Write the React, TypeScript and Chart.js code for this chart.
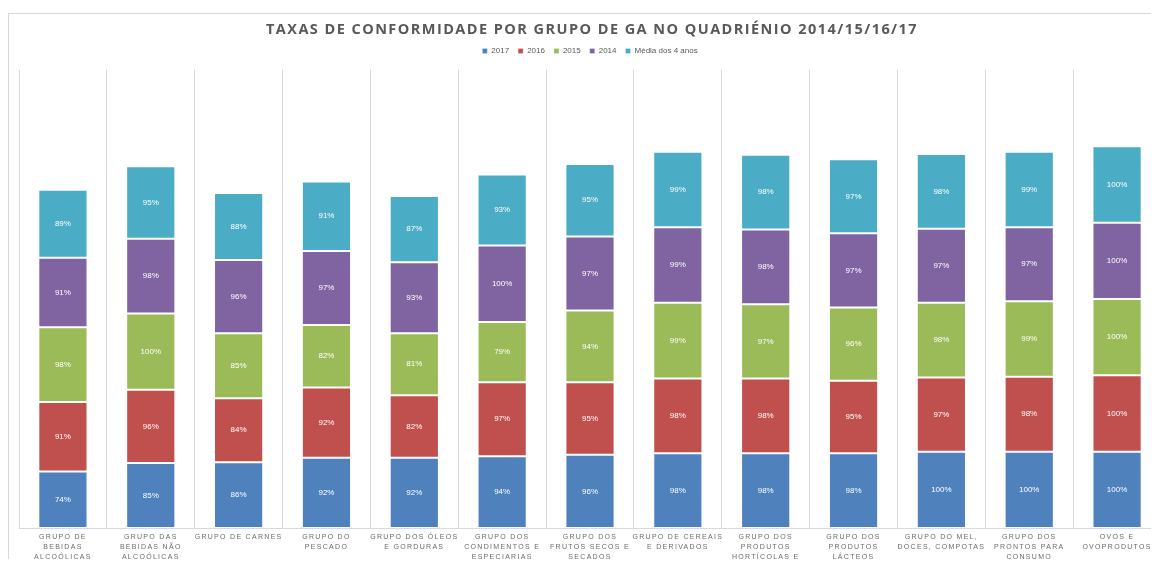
import React, { useEffect, useRef } from "react";
import { Chart, registerables } from "chart.js";

Chart.register(...registerables);

const TITLE = "TAXAS DE CONFORMIDADE POR GRUPO DE GA NO QUADRIÉNIO 2014/15/16/17";

const categories: string[][] = [
  ["GRUPO DE", "BEBIDAS", "ALCOÓLICAS"],
  ["GRUPO DAS", "BEBIDAS NÃO", "ALCOÓLICAS"],
  ["GRUPO DE CARNES"],
  ["GRUPO DO", "PESCADO"],
  ["GRUPO DOS ÓLEOS", "E GORDURAS"],
  ["GRUPO DOS", "CONDIMENTOS E", "ESPECIARIAS"],
  ["GRUPO DOS", "FRUTOS SECOS E", "SECADOS"],
  ["GRUPO DE CEREAIS", "E DERIVADOS"],
  ["GRUPO DOS", "PRODUTOS", "HORTÍCOLAS E", "FRUTAS"],
  ["GRUPO DOS", "PRODUTOS", "LÁCTEOS"],
  ["GRUPO DO MEL,", "DOCES, COMPOTAS"],
  ["GRUPO DOS", "PRONTOS PARA", "CONSUMO"],
  ["OVOS E", "OVOPRODUTOS"],
];

const s2017 = [74, 85, 86, 92, 92, 94, 96, 98, 98, 98, 100, 100, 100];
const s2016 = [91, 96, 84, 92, 82, 97, 95, 98, 98, 95, 97, 98, 100];
const s2015 = [98, 100, 85, 82, 81, 79, 94, 99, 97, 96, 98, 99, 100];
const s2014 = [91, 98, 96, 97, 93, 100, 97, 99, 98, 97, 97, 97, 100];
const sMedia = [89, 95, 88, 91, 87, 93, 95, 99, 98, 97, 98, 99, 100];

const seriesNames = ["2017", "2016", "2015", "2014", "Média dos 4 anos"];
const seriesColors = ["#4F81BD", "#C0504D", "#9BBB59", "#8064A2", "#4BACC6"];
const seriesData = [s2017, s2016, s2015, s2014, sMedia];

const customText = {
  id: "customText",
  afterLayout(chart: any) {
    if (chart.legend) {
      chart.legend.top -= 5;
      chart.legend.bottom -= 5;
    }
  },
  afterDatasetsDraw(chart: any) {
    const ctx = chart.ctx;
    ctx.save();
    ctx.font = "8px 'Liberation Sans', Arial, sans-serif";
    ctx.fillStyle = "#ffffff";
    ctx.textAlign = "center";
    ctx.textBaseline = "middle";
    chart.data.datasets.forEach((ds: any, di: number) => {
      const meta = chart.getDatasetMeta(di);
      meta.data.forEach((el: any, i: number) => {
        const p = el.getProps(["x", "y", "base"], true);
        ctx.fillText(ds.data[i] + "%", p.x, (p.y + p.base) / 2);
      });
    });
    ctx.restore();
  },
  afterDraw(chart: any) {
    const ctx = chart.ctx;
    const area = chart.chartArea;
    const xs = chart.scales.x;
    ctx.save();
    ctx.font = "bold 14.5px 'Open Sans', 'Liberation Sans', sans-serif";
    (ctx as any).letterSpacing = "1.45px";
    ctx.fillStyle = "#595959";
    ctx.textAlign = "center";
    ctx.textBaseline = "middle";
    ctx.fillText(TITLE, chart.width / 2, 16);
    ctx.font = "7px 'Liberation Sans', Arial, sans-serif";
    (ctx as any).letterSpacing = "1.3px";
    ctx.fillStyle = "#6b6b6b";
    categories.forEach((lines, i) => {
      const x = xs.getPixelForValue(i);
      lines.forEach((ln, j) => {
        ctx.fillText(ln, x, area.bottom + 9.5 + j * 10);
      });
    });
    ctx.restore();
  },
};

export default function App() {
  const ref = useRef<HTMLCanvasElement>(null);
  useEffect(() => {
    if (!ref.current) return;
    const chart = new Chart(ref.current, {
      type: "bar",
      data: {
        labels: categories.map((c) => c.join(" ")),
        datasets: seriesNames.map((name, k) => ({
          label: name,
          data: seriesData[k],
          backgroundColor: seriesColors[k],
          borderColor: "rgba(255,255,255,0.25)",
          borderWidth: 1,
          borderSkipped: false,
          categoryPercentage: 1,
          barPercentage: 0.56,
        })),
      },
      options: {
        animation: false,
        responsive: false,
        maintainAspectRatio: false,
        layout: { padding: { top: 29, left: 10, right: 14, bottom: 39 } },
        plugins: {
          title: { display: false },
          tooltip: { enabled: false },
          legend: {
            display: true,
            position: "top",
            labels: {
              boxWidth: 5,
              boxHeight: 5,
              padding: 9,
              color: "#595959",
              font: { size: 8, family: "'Liberation Sans', Arial, sans-serif" },
            },
          },
        },
        scales: {
          x: {
            stacked: true,
            grid: { display: true, color: "#d9d9d9", drawTicks: false, offset: true },
            border: { display: true, color: "#d9d9d9" },
            ticks: { display: false },
          },
          y: {
            stacked: true,
            display: false,
            min: 0,
            max: 600,
          },
        },
      },
      plugins: [customText],
    });
    return () => chart.destroy();
  }, []);
  return (
    <div style={{ width: 1151, height: 559, marginBottom: -8, overflow: "hidden" }}>
      <div
        style={{
          position: "relative",
          top: 5,
          width: 1166,
          height: 560,
          border: "1px solid #d9d9d9",
        }}
      >
        <canvas ref={ref} width={1166} height={553} style={{ display: "block" }} />
      </div>
    </div>
  );
}
